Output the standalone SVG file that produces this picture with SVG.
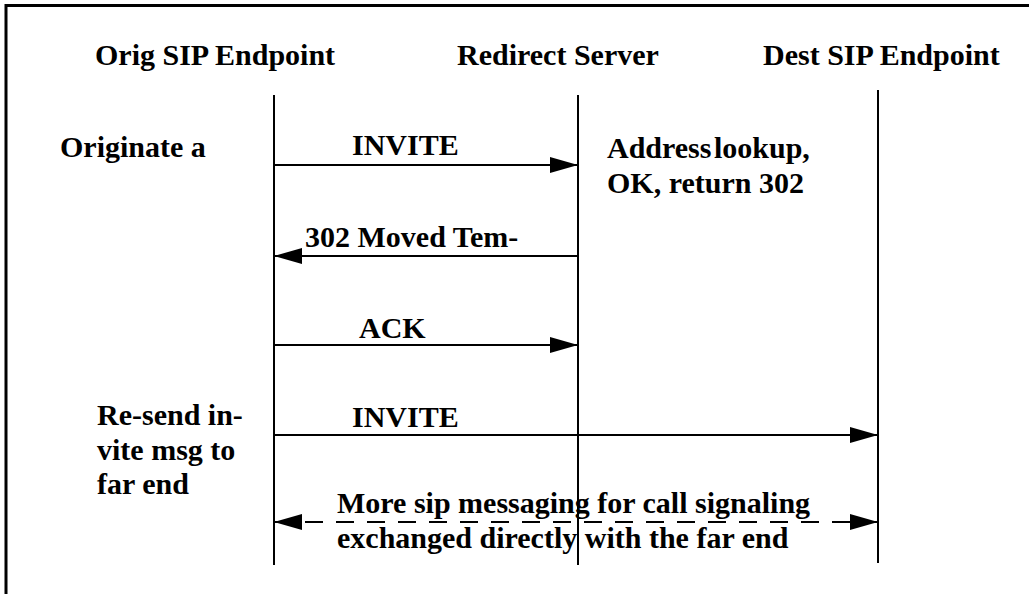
<svg xmlns="http://www.w3.org/2000/svg" width="1029" height="594" viewBox="0 0 1029 594">
  <style>
    text { font-family: "Liberation Serif", "Times New Roman", serif; font-weight: bold; font-size: 30px; fill: #000; }
    .life { stroke: #000; stroke-width: 2; fill: none; }
    .msg { stroke: #000; stroke-width: 2; fill: none; }
    .dash { stroke-dasharray: 18 13; }
    .frame { stroke: #000; stroke-width: 3; fill: none; }
  </style>
  <defs>
    <marker id="head" viewBox="0 0 28 16" refX="28" refY="8" markerWidth="28" markerHeight="16" markerUnits="userSpaceOnUse" orient="auto-start-reverse">
      <path d="M0,0 L28,8 L0,16 Z" fill="#000"/>
    </marker>
  </defs>
  <rect width="1029" height="594" fill="#fff"/>
  <!-- open frame: top and left edges only -->
  <path class="frame" d="M6,594 L6,5.5 L1029,5.5"/>

  <g id="orig">
    <text x="95" y="65">Orig SIP Endpoint</text>
    <line class="life" x1="274" y1="95" x2="274" y2="565"/>
  </g>
  <g id="redirect">
    <text x="457" y="65">Redirect Server</text>
    <line class="life" x1="578" y1="95" x2="578" y2="565"/>
  </g>
  <g id="dest">
    <text x="763" y="65">Dest SIP Endpoint</text>
    <line class="life" x1="878" y1="90" x2="878" y2="563"/>
  </g>

  <g id="notes">
    <text x="60" y="157">Originate a</text>
    <text x="607" y="158" word-spacing="-5">Address lookup,</text>
    <text x="607" y="193">OK, return 302</text>
    <text x="97" y="425">Re-send in-</text>
    <text x="97" y="460">vite msg to</text>
    <text x="97" y="494">far end</text>
  </g>

  <g id="connectors">
    <line class="msg" x1="274" y1="165" x2="578" y2="165" marker-end="url(#head)"/>
    <text x="352" y="155">INVITE</text>
    <line class="msg" x1="578" y1="256" x2="274" y2="256" marker-end="url(#head)"/>
    <text x="305" y="247">302 Moved Tem-</text>
    <line class="msg" x1="274" y1="345" x2="578" y2="345" marker-end="url(#head)"/>
    <text x="359" y="338">ACK</text>
    <line class="msg" x1="274" y1="435" x2="878" y2="435" marker-end="url(#head)"/>
    <text x="352" y="427">INVITE</text>
    <line class="msg dash" x1="274" y1="522" x2="878" y2="522" marker-start="url(#head)" marker-end="url(#head)"/>
    <text x="337" y="513">More sip messaging for call signaling</text>
    <text x="337" y="548">exchanged directly with the far end</text>
  </g>
</svg>
